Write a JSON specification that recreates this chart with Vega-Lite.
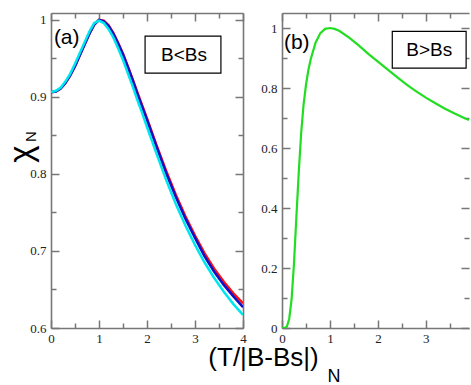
{
  "$schema": "https://vega.github.io/schema/vega-lite/v6.json",
  "padding": {"left": 5, "top": 12, "right": 0, "bottom": 0},
  "autosize": {"type": "pad"},
  "spacing": 39,
  "bounds": "flush",
  "config": {
    "view": {"stroke": null},
    "axis": {
      "grid": false,
      "labelFont": "Liberation Serif",
      "labelFontSize": 13,
      "labelColor": "#222222",
      "tickColor": "#777777",
      "tickWidth": 1.5,
      "domainColor": "#777777",
      "domainWidth": 1.6,
      "labelFlush": false,
      "labelOverlap": false,
      "titleFont": "Liberation Sans",
      "titleFontWeight": "normal",
      "titleColor": "#000000"
    }
  },
  "datasets": {
    "curvesA": [
      {"s": "1red", "t": 0, "v": 0.906}, {"s": "1red", "t": 0.1, "v": 0.907}, {"s": "1red", "t": 0.2, "v": 0.911}, {"s": "1red", "t": 0.3, "v": 0.918}, {"s": "1red", "t": 0.4, "v": 0.928}, {"s": "1red", "t": 0.5, "v": 0.94}, {"s": "1red", "t": 0.6, "v": 0.954}, {"s": "1red", "t": 0.7, "v": 0.968}, {"s": "1red", "t": 0.8, "v": 0.982}, {"s": "1red", "t": 0.9, "v": 0.994}, {"s": "1red", "t": 1.0, "v": 1.0}, {"s": "1red", "t": 1.1, "v": 0.999}, {"s": "1red", "t": 1.2, "v": 0.993}, {"s": "1red", "t": 1.3, "v": 0.983}, {"s": "1red", "t": 1.4, "v": 0.97}, {"s": "1red", "t": 1.5, "v": 0.956}, {"s": "1red", "t": 1.6, "v": 0.94}, {"s": "1red", "t": 1.7, "v": 0.923}, {"s": "1red", "t": 1.8, "v": 0.906}, {"s": "1red", "t": 1.9, "v": 0.889}, {"s": "1red", "t": 2.0, "v": 0.872}, {"s": "1red", "t": 2.2, "v": 0.837}, {"s": "1red", "t": 2.4, "v": 0.804}, {"s": "1red", "t": 2.6, "v": 0.773}, {"s": "1red", "t": 2.8, "v": 0.745}, {"s": "1red", "t": 3.0, "v": 0.72}, {"s": "1red", "t": 3.2, "v": 0.697}, {"s": "1red", "t": 3.4, "v": 0.677}, {"s": "1red", "t": 3.6, "v": 0.66}, {"s": "1red", "t": 3.8, "v": 0.645}, {"s": "1red", "t": 4.0, "v": 0.632},
      {"s": "2blue", "t": 0, "v": 0.906}, {"s": "2blue", "t": 0.1, "v": 0.907}, {"s": "2blue", "t": 0.2, "v": 0.911}, {"s": "2blue", "t": 0.3, "v": 0.918}, {"s": "2blue", "t": 0.4, "v": 0.928}, {"s": "2blue", "t": 0.5, "v": 0.94}, {"s": "2blue", "t": 0.6, "v": 0.954}, {"s": "2blue", "t": 0.7, "v": 0.968}, {"s": "2blue", "t": 0.8, "v": 0.982}, {"s": "2blue", "t": 0.9, "v": 0.994}, {"s": "2blue", "t": 1.0, "v": 1.0}, {"s": "2blue", "t": 1.1, "v": 0.998}, {"s": "2blue", "t": 1.2, "v": 0.992}, {"s": "2blue", "t": 1.3, "v": 0.982}, {"s": "2blue", "t": 1.4, "v": 0.969}, {"s": "2blue", "t": 1.5, "v": 0.955}, {"s": "2blue", "t": 1.6, "v": 0.939}, {"s": "2blue", "t": 1.7, "v": 0.922}, {"s": "2blue", "t": 1.8, "v": 0.904}, {"s": "2blue", "t": 1.9, "v": 0.887}, {"s": "2blue", "t": 2.0, "v": 0.87}, {"s": "2blue", "t": 2.2, "v": 0.835}, {"s": "2blue", "t": 2.4, "v": 0.801}, {"s": "2blue", "t": 2.6, "v": 0.77}, {"s": "2blue", "t": 2.8, "v": 0.742}, {"s": "2blue", "t": 3.0, "v": 0.717}, {"s": "2blue", "t": 3.2, "v": 0.693}, {"s": "2blue", "t": 3.4, "v": 0.673}, {"s": "2blue", "t": 3.6, "v": 0.656}, {"s": "2blue", "t": 3.8, "v": 0.641}, {"s": "2blue", "t": 4.0, "v": 0.627},
      {"s": "3cyan", "t": 0, "v": 0.906}, {"s": "3cyan", "t": 0.1, "v": 0.908}, {"s": "3cyan", "t": 0.2, "v": 0.912}, {"s": "3cyan", "t": 0.3, "v": 0.92}, {"s": "3cyan", "t": 0.4, "v": 0.93}, {"s": "3cyan", "t": 0.5, "v": 0.943}, {"s": "3cyan", "t": 0.6, "v": 0.957}, {"s": "3cyan", "t": 0.7, "v": 0.971}, {"s": "3cyan", "t": 0.8, "v": 0.985}, {"s": "3cyan", "t": 0.9, "v": 0.996}, {"s": "3cyan", "t": 1.0, "v": 0.999}, {"s": "3cyan", "t": 1.1, "v": 0.996}, {"s": "3cyan", "t": 1.2, "v": 0.988}, {"s": "3cyan", "t": 1.3, "v": 0.977}, {"s": "3cyan", "t": 1.4, "v": 0.963}, {"s": "3cyan", "t": 1.5, "v": 0.948}, {"s": "3cyan", "t": 1.6, "v": 0.931}, {"s": "3cyan", "t": 1.7, "v": 0.914}, {"s": "3cyan", "t": 1.8, "v": 0.896}, {"s": "3cyan", "t": 1.9, "v": 0.879}, {"s": "3cyan", "t": 2.0, "v": 0.861}, {"s": "3cyan", "t": 2.2, "v": 0.826}, {"s": "3cyan", "t": 2.4, "v": 0.792}, {"s": "3cyan", "t": 2.6, "v": 0.761}, {"s": "3cyan", "t": 2.8, "v": 0.733}, {"s": "3cyan", "t": 3.0, "v": 0.708}, {"s": "3cyan", "t": 3.2, "v": 0.685}, {"s": "3cyan", "t": 3.4, "v": 0.665}, {"s": "3cyan", "t": 3.6, "v": 0.647}, {"s": "3cyan", "t": 3.8, "v": 0.631}, {"s": "3cyan", "t": 4.0, "v": 0.617}
    ],
    "curveB": [
      {"t": 0, "v": 0}, {"t": 0.05, "v": 0}, {"t": 0.1, "v": 0.004}, {"t": 0.15, "v": 0.03}, {"t": 0.2, "v": 0.095}, {"t": 0.25, "v": 0.215}, {"t": 0.3, "v": 0.37}, {"t": 0.35, "v": 0.52}, {"t": 0.4, "v": 0.65}, {"t": 0.45, "v": 0.745}, {"t": 0.5, "v": 0.81}, {"t": 0.55, "v": 0.86}, {"t": 0.6, "v": 0.897}, {"t": 0.7, "v": 0.951}, {"t": 0.8, "v": 0.983}, {"t": 0.9, "v": 0.997}, {"t": 1.0, "v": 1.0}, {"t": 1.1, "v": 0.997}, {"t": 1.2, "v": 0.99}, {"t": 1.4, "v": 0.968}, {"t": 1.6, "v": 0.942}, {"t": 1.8, "v": 0.914}, {"t": 2.0, "v": 0.888}, {"t": 2.2, "v": 0.862}, {"t": 2.4, "v": 0.836}, {"t": 2.6, "v": 0.811}, {"t": 2.8, "v": 0.789}, {"t": 3.0, "v": 0.768}, {"t": 3.2, "v": 0.749}, {"t": 3.4, "v": 0.731}, {"t": 3.6, "v": 0.715}, {"t": 3.8, "v": 0.7}, {"t": 3.9, "v": 0.693}
    ]
  },
  "hconcat": [
    {
      "width": 192,
      "height": 315,
      "resolve": {"axis": {"x": "independent", "y": "independent"}},
      "layer": [
        {
          "data": {"name": "curvesA"},
          "mark": {"type": "line", "strokeWidth": 2.5, "clip": true},
          "encoding": {
            "x": {"field": "t", "type": "quantitative", "scale": {"domain": [0, 4], "nice": false, "zero": false},
              "axis": {"orient": "bottom", "values": [0, 1, 2, 3, 4], "format": "~g", "tickSize": -8, "labelPadding": 12, "offset": 0,
                "title": "(T/|B-Bs|)", "titleFontSize": 26, "titleX": 212, "titleY": 37, "titleAlign": "center", "titleBaseline": "alphabetic"}},
            "y": {"field": "v", "type": "quantitative", "scale": {"domain": [0.6, 1.009], "nice": false, "zero": false},
              "axis": {"orient": "left", "values": [0.6, 0.7, 0.8, 0.9, 1], "format": "~g", "tickSize": -8, "labelPadding": 13, "offset": 0,
                "title": "χ", "titleFontSize": 33, "titleX": -20, "titleY": 140.5, "titleAngle": 270, "titleAlign": "center", "titleBaseline": "alphabetic"}},
            "color": {"field": "s", "type": "nominal", "legend": null,
              "scale": {"domain": ["1red", "2blue", "3cyan"], "range": ["#ff1010", "#1010c8", "#00e6ee"]}}
          }
        },
        {
          "data": {"values": [{"x1": 1.96, "x2": 3.54, "y1": 0.979, "y2": 0.931}]},
          "mark": {"type": "rect", "fill": "#ffffff", "stroke": "#000000", "strokeWidth": 1.2},
          "encoding": {
            "x": {"field": "x1", "type": "quantitative", "scale": {"domain": [0, 4], "nice": false, "zero": false},
              "axis": {"orient": "top", "values": [0, 1, 2, 3, 4], "labels": false, "tickSize": -8, "title": null, "offset": 0}},
            "x2": {"field": "x2"},
            "y": {"field": "y1", "type": "quantitative", "scale": {"domain": [0.6, 1.009], "nice": false, "zero": false},
              "axis": {"orient": "right", "values": [0.6, 0.7, 0.8, 0.9, 1], "labels": false, "tickSize": -8, "title": null, "offset": 0}},
            "y2": {"field": "y2"}
          }
        },
        {
          "data": {"values": [{"x": 2.77, "y": 0.955, "label": "B<Bs"}]},
          "mark": {"type": "text", "font": "Liberation Sans", "fontSize": 19, "align": "center", "baseline": "middle", "color": "#000000"},
          "encoding": {
            "x": {"field": "x", "type": "quantitative", "scale": {"domain": [0, 4], "nice": false, "zero": false},
              "axis": {"orient": "bottom", "values": [0.5, 1.5, 2.5, 3.5], "labels": false, "domain": false, "tickSize": -5, "title": null, "offset": 0}},
            "y": {"field": "y", "type": "quantitative", "scale": {"domain": [0.6, 1.009], "nice": false, "zero": false},
              "axis": {"orient": "left", "values": [0.65, 0.75, 0.85, 0.95], "labels": false, "domain": false, "tickSize": -5, "title": null, "offset": 0}},
            "text": {"field": "label"}
          }
        },
        {
          "data": {"values": [{"x": 0.06, "y": 0.977, "label": "(a)"}]},
          "mark": {"type": "text", "font": "Liberation Sans", "fontSize": 21, "align": "left", "baseline": "middle", "color": "#000000"},
          "encoding": {
            "x": {"field": "x", "type": "quantitative", "scale": {"domain": [0, 4], "nice": false, "zero": false},
              "axis": {"orient": "top", "values": [0.5, 1.5, 2.5, 3.5], "labels": false, "domain": false, "tickSize": -5, "title": null, "offset": 0}},
            "y": {"field": "y", "type": "quantitative", "scale": {"domain": [0.6, 1.009], "nice": false, "zero": false},
              "axis": {"orient": "right", "values": [0.65, 0.75, 0.85, 0.95], "labels": false, "domain": false, "tickSize": -5, "title": null, "offset": 0}},
            "text": {"field": "label"}
          }
        }
      ]
    },
    {
      "width": 187,
      "height": 315,
      "resolve": {"axis": {"x": "independent", "y": "independent"}},
      "layer": [
        {
          "data": {"name": "curveB"},
          "mark": {"type": "line", "strokeWidth": 2.2, "color": "#22dd22", "clip": true},
          "encoding": {
            "x": {"field": "t", "type": "quantitative", "scale": {"domain": [0, 3.9], "nice": false, "zero": false},
              "axis": {"orient": "bottom", "values": [0, 1, 2, 3], "format": "~g", "tickSize": -8, "labelPadding": 12, "offset": 0,
                "title": "N", "titleFontSize": 18, "titleX": 45, "titleY": 53, "titleAlign": "left", "titleBaseline": "alphabetic"}},
            "y": {"field": "v", "type": "quantitative", "scale": {"domain": [0, 1.05], "nice": false, "zero": false},
              "axis": {"orient": "left", "values": [0, 0.2, 0.4, 0.6, 0.8, 1], "format": "~g", "tickSize": -8, "labelPadding": 13, "offset": 0,
                "title": "N", "titleFontSize": 15, "titleX": -247, "titleY": 123, "titleAngle": 270, "titleAlign": "center", "titleBaseline": "alphabetic"}}
          }
        },
        {
          "data": {"values": [{"x1": 2.3, "x2": 3.84, "y1": 0.989, "y2": 0.866}]},
          "mark": {"type": "rect", "fill": "#ffffff", "stroke": "#000000", "strokeWidth": 1.2},
          "encoding": {
            "x": {"field": "x1", "type": "quantitative", "scale": {"domain": [0, 3.9], "nice": false, "zero": false},
              "axis": {"orient": "top", "values": [0, 1, 2, 3], "labels": false, "tickSize": -8, "title": null, "offset": 0}},
            "x2": {"field": "x2"},
            "y": {"field": "y1", "type": "quantitative", "scale": {"domain": [0, 1.05], "nice": false, "zero": false},
              "axis": {"orient": "right", "values": [0, 0.2, 0.4, 0.6, 0.8, 1], "labels": false, "domain": false, "tickSize": -8, "title": null, "offset": 0}},
            "y2": {"field": "y2"}
          }
        },
        {
          "data": {"values": [{"x": 3.07, "y": 0.927, "label": "B>Bs"}]},
          "mark": {"type": "text", "font": "Liberation Sans", "fontSize": 19, "align": "center", "baseline": "middle", "color": "#000000"},
          "encoding": {
            "x": {"field": "x", "type": "quantitative", "scale": {"domain": [0, 3.9], "nice": false, "zero": false},
              "axis": {"orient": "bottom", "values": [0.5, 1.5, 2.5, 3.5], "labels": false, "domain": false, "tickSize": -5, "title": null, "offset": 0}},
            "y": {"field": "y", "type": "quantitative", "scale": {"domain": [0, 1.05], "nice": false, "zero": false},
              "axis": {"orient": "left", "values": [0.1, 0.3, 0.5, 0.7, 0.9], "labels": false, "domain": false, "tickSize": -5, "title": null, "offset": 0}},
            "text": {"field": "label"}
          }
        },
        {
          "data": {"values": [{"x": 0.04, "y": 0.949, "label": "(b)"}]},
          "mark": {"type": "text", "font": "Liberation Sans", "fontSize": 21, "align": "left", "baseline": "middle", "color": "#000000"},
          "encoding": {
            "x": {"field": "x", "type": "quantitative", "scale": {"domain": [0, 3.9], "nice": false, "zero": false},
              "axis": {"orient": "top", "values": [0.5, 1.5, 2.5, 3.5], "labels": false, "domain": false, "tickSize": -5, "title": null, "offset": 0}},
            "y": {"field": "y", "type": "quantitative", "scale": {"domain": [0, 1.05], "nice": false, "zero": false},
              "axis": {"orient": "right", "values": [0.1, 0.3, 0.5, 0.7, 0.9], "labels": false, "domain": false, "tickSize": -5, "title": null, "offset": 0}},
            "text": {"field": "label"}
          }
        }
      ]
    }
  ]
}
